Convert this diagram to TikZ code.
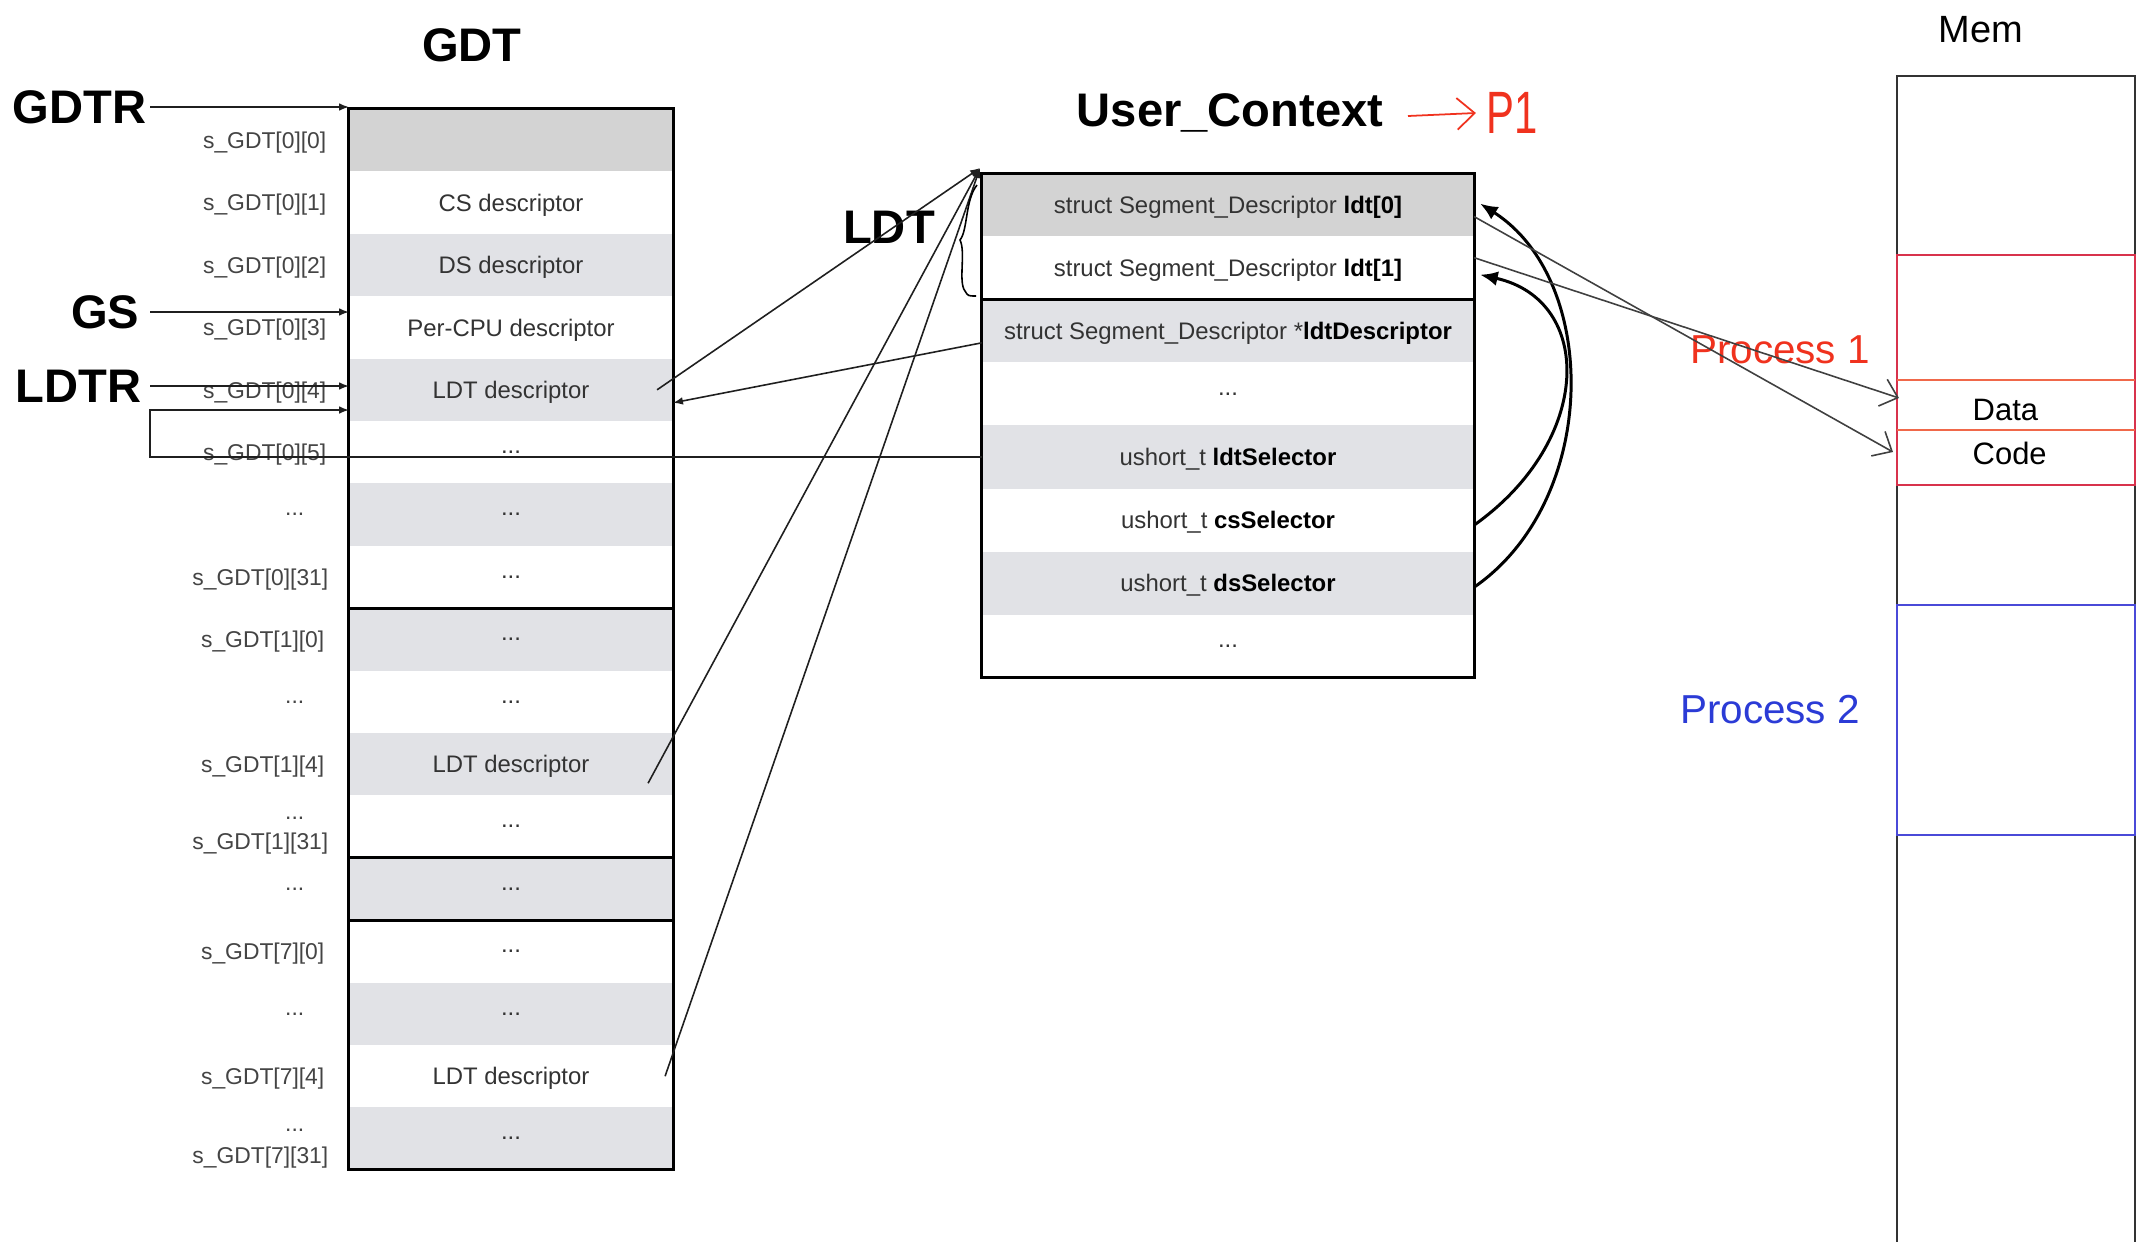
\documentclass[tikz,border=0pt]{standalone}
\usepackage{fontspec}
\setmainfont{Liberation Sans}
\usetikzlibrary{arrows.meta}
\definecolor{rowdark}{HTML}{D3D3D3}
\definecolor{rowlight}{HTML}{E1E2E6}
\definecolor{txtgray}{HTML}{333333}
\definecolor{labgray}{HTML}{444444}
\definecolor{procred}{HTML}{F0321E}
\definecolor{procblue}{HTML}{2B3BD6}
\definecolor{memred}{HTML}{D8324C}
\definecolor{memorange}{HTML}{F0684A}
\definecolor{memblue}{HTML}{4A4AD8}
\tikzset{
  gdtcell/.style={minimum width=3.24cm, minimum height=0.624cm, inner sep=0pt, outer sep=0pt,
    text depth=0pt, font=\fontsize{6.8}{8}\selectfont, text=txtgray},
  uccell/.style={minimum width=4.92cm, minimum height=0.631cm, inner sep=0pt, outer sep=0pt,
    text depth=0pt, font=\fontsize{6.8}{8}\selectfont, text=txtgray},
  darkrow/.style={fill=rowdark},
  lightrow/.style={fill=rowlight},
  whiterow/.style={fill=white},
  lbltxt/.style={anchor=east, inner sep=0pt, text depth=0pt, font=\fontsize{6.5}{7.5}\selectfont, text=labgray},
  headtxt/.style={inner sep=0pt, font=\bfseries\fontsize{13.4}{15}\selectfont},
  boxline/.style={line width=0.85pt, draw=black},
  ptrarrow/.style={-{Latex[length=2.8pt,width=2.2pt]}, line width=0.45pt, draw=black!88},
  selarc/.style={-{Latex[length=5pt,width=4.2pt]}, line width=0.85pt, draw=black},
  barbarrow/.style={-{Straight Barb[length=4.5pt,width=8pt]}, line width=0.45pt, draw=black!75},
  memline/.style={line width=0.4pt},
}
\begin{document}
\begin{tikzpicture}[x=0.01cm, y=-0.01cm]
\useasboundingbox (0,0) rectangle (2138,1242);
\fill[white] (0,0) rectangle (2138,1242);

% ---------------- GDT ----------------
\node[headtxt] (gdtlab) at (472,45) {GDT};
\node[gdtcell, darkrow]  (g0)  at (511,140.2)  {};
\node[gdtcell, whiterow] (g1)  at (511,202.6)  {CS descriptor};
\node[gdtcell, lightrow] (g2)  at (511,265.0)  {DS descriptor};
\node[gdtcell, whiterow] (g3)  at (511,327.4)  {Per-CPU descriptor};
\node[gdtcell, lightrow] (g4)  at (511,389.8)  {LDT descriptor};
\node[gdtcell, whiterow] (g5)  at (511,452.2)  {...};
\node[gdtcell, lightrow] (g6)  at (511,514.6)  {...};
\node[gdtcell, whiterow] (g7)  at (511,577.0)  {...};
\node[gdtcell, lightrow] (g8)  at (511,639.4)  {...};
\node[gdtcell, whiterow] (g9)  at (511,701.8)  {...};
\node[gdtcell, lightrow] (g10) at (511,764.2)  {LDT descriptor};
\node[gdtcell, whiterow] (g11) at (511,826.6)  {...};
\node[gdtcell, lightrow] (g12) at (511,889.0)  {...};
\node[gdtcell, whiterow] (g13) at (511,951.4)  {...};
\node[gdtcell, lightrow] (g14) at (511,1013.8) {...};
\node[gdtcell, whiterow] (g15) at (511,1076.2) {LDT descriptor};
\node[gdtcell, lightrow] (g16) at (511,1138.6) {...};
\draw[boxline] (g0.north west) rectangle (g16.south east);
\draw[boxline] (g7.south west) -- (g7.south east);
\draw[boxline] (g11.south west) -- (g11.south east);
\draw[boxline] (g12.south west) -- (g12.south east);

% labels
\node[lbltxt] (l0)  at (327,140.2)  {s\_GDT[0][0]};
\node[lbltxt] (l1)  at (327,202.6)  {s\_GDT[0][1]};
\node[lbltxt] (l2)  at (327,265.0)  {s\_GDT[0][2]};
\node[lbltxt] (l3)  at (327,327.4)  {s\_GDT[0][3]};
\node[lbltxt] (l4)  at (327,389.8)  {s\_GDT[0][4]};
\node[lbltxt] (l5)  at (327,452.2)  {s\_GDT[0][5]};
\node[lbltxt] (l6)  at (305,514.6)  {...};
\node[lbltxt] (l7)  at (329,577.0)  {s\_GDT[0][31]};
\node[lbltxt] (l8)  at (325,639.4)  {s\_GDT[1][0]};
\node[lbltxt] (l9)  at (305,701.8)  {...};
\node[lbltxt] (l10) at (325,764.2)  {s\_GDT[1][4]};
\node[lbltxt] (l11a) at (305,818)   {...};
\node[lbltxt] (l11) at (329,841)    {s\_GDT[1][31]};
\node[lbltxt] (l12) at (305,889.0)  {...};
\node[lbltxt] (l13) at (325,951.4)  {s\_GDT[7][0]};
\node[lbltxt] (l14) at (305,1013.8) {...};
\node[lbltxt] (l15) at (325,1076.2) {s\_GDT[7][4]};
\node[lbltxt] (l16a) at (305,1130)  {...};
\node[lbltxt] (l16) at (329,1155)   {s\_GDT[7][31]};

% registers
\node[headtxt, anchor=east] (gdtr) at (147,107) {GDTR};
\node[headtxt, anchor=east] (gs)   at (140,312) {GS};
\node[headtxt, anchor=east] (ldtr) at (142,386) {LDTR};

% ---------------- User_Context ----------------
\node[headtxt] (uctx) at (1230,113) {User\_Context};
\node[uccell, darkrow]  (u0) at (1228,204.6) {struct Segment\_Descriptor \textbf{\color{black}ldt[0]}};
\node[uccell, whiterow] (u1) at (1228,267.7) {struct Segment\_Descriptor \textbf{\color{black}ldt[1]}};
\node[uccell, lightrow] (u2) at (1228,330.8) {struct Segment\_Descriptor *\textbf{\color{black}ldtDescriptor}};
\node[uccell, whiterow] (u3) at (1228,393.9) {...};
\node[uccell, lightrow] (u4) at (1228,457.0) {ushort\_t \textbf{\color{black}ldtSelector}};
\node[uccell, whiterow] (u5) at (1228,520.1) {ushort\_t \textbf{\color{black}csSelector}};
\node[uccell, lightrow] (u6) at (1228,583.2) {ushort\_t \textbf{\color{black}dsSelector}};
\node[uccell, whiterow] (u7) at (1228,646.3) {...};
\draw[boxline] (u0.north west) rectangle (u7.south east);
\draw[boxline] (u1.south west) -- (u1.south east);

\node[headtxt] (ldtlab) at (889,227) {LDT};

% P1 annotation
\node[text=procred, inner sep=0pt, xscale=0.7, font=\fontsize{17}{17}\selectfont] (p1) at (1512,113) {P1};
\coordinate (p1start) at (1408,116);
\draw[procred, line width=0.5pt, -{Straight Barb[length=5pt,width=9pt]}] (p1start) -- ([xshift=-0.1cm]p1.west);

% ---------------- Mem ----------------
\node[inner sep=0pt, font=\fontsize{10.8}{12}\selectfont] (memlab) at (1981,30) {Mem};
\draw[memline, black!80] (1897,1242) -- (1897,76) -- (2135,76) -- (2135,1242);
\draw[memline, memred] (1897,255) rectangle (2135,485);
\draw[memline, memorange] (1897,380) -- (2135,380);
\draw[memline, memorange] (1897,430) -- (2135,430);
\draw[memline, memblue] (1897,605) rectangle (2135,835);
\node[anchor=west, inner sep=0pt, font=\fontsize{8.8}{10}\selectfont] (mdata) at (1972,410) {Data};
\node[anchor=west, inner sep=0pt, font=\fontsize{8.8}{10}\selectfont] (mcode) at (1972,453) {Code};
\node[inner sep=0pt, text=procred, font=\fontsize{11.5}{13}\selectfont] (proc1) at (1780,350) {Process 1};
\node[inner sep=0pt, text=procblue, font=\fontsize{11.5}{13}\selectfont] (proc2) at (1770,710) {Process 2};
\coordinate (dtip) at (1899,398);
\coordinate (ctip) at (1893,452);

% ---------------- connectors ----------------
\draw[ptrarrow] (gdtr.east) ++(0.03cm,0) -- (g0.north west |- gdtr.east);
\draw[ptrarrow] ([xshift=0.1cm]gs.east) -- (g3.west |- gs.east);
\draw[ptrarrow] ([xshift=0.08cm]ldtr.east) -- (g4.west |- ldtr.east);
\coordinate (loopc) at (150,410);
\draw[ptrarrow] (u4.west) -| (loopc) -- (g4.west |- loopc);

\coordinate (ldttip) at (980,168);
\draw[ptrarrow] ([xshift=-0.16cm]g4.east) -- (ldttip);
\draw[ptrarrow] ([shift={(-0.25cm,-0.19cm)}]g10.east) -- (ldttip);
\draw[ptrarrow] ([xshift=-0.08cm]g15.east) -- (ldttip);
\draw[ptrarrow] ([yshift=-0.12cm]u2.west) -- ([yshift=-0.13cm]g4.east);
% brace marking the LDT entries
\draw[line width=0.45pt] (977,185) .. controls (965,200) and (968,230) .. (960,240)
  .. controls (966,252) and (958,282) .. (965,291) .. controls (968,296) .. (976,296);

% selector arcs
\draw[selarc] ([yshift=-0.04cm]u6.east) .. controls (1600,500) and (1600,280) .. ([shift={(0.06cm,0.01cm)}]u0.east);
\draw[selarc] ([yshift=-0.05cm]u5.east) .. controls (1594,440) and (1594,300) .. ([shift={(0.06cm,-0.07cm)}]u1.east);

% descriptors to memory
\draw[barbarrow] ([yshift=-0.12cm]u0.east) -- (ctip);
\draw[barbarrow] ([yshift=0.1cm]u1.east) -- (dtip);
\end{tikzpicture}
\end{document}
